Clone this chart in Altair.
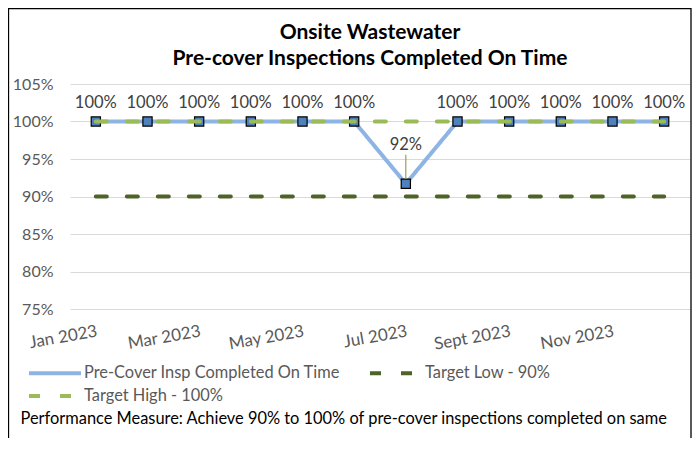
import altair as alt
import pandas as pd

months = ["Jan 2023", "Feb 2023", "Mar 2023", "Apr 2023", "May 2023", "Jun 2023",
          "Jul 2023", "Aug 2023", "Sept 2023", "Oct 2023", "Nov 2023", "Dec 2023"]
shown_months = ["Jan 2023", "Mar 2023", "May 2023", "Jul 2023", "Sept 2023", "Nov 2023"]
actual = [100, 100, 100, 100, 100, 100, 91.7, 100, 100, 100, 100, 100]
target_low = [90, 90, 90, 90, 90, 90, 90, 90, 90, 90, 90, 90]
target_high = [100, 100, 100, 100, 100, 100, 100, 100, 100, 100, 100, 100]
y_ticks = [75, 80, 85, 90, 95, 100, 105]

series_names = ["Pre-Cover Insp Completed On Time", "Target Low - 90%", "Target High - 100%"]
series_colors = ["#8EB4E3", "#4F6228", "#9BBB59"]
series_dash = [[1, 0], [11, 20], [11, 20]]
legend_order = ["Pre-Cover Insp Completed On Time", "Target High - 100%", "Target Low - 90%"]

rows = []
for name, vals in zip(series_names, [actual, target_low, target_high]):
    for m, v in zip(months, vals):
        rows.append({"month": m, "value": v, "series": name})
df = pd.DataFrame(rows)
df_actual = df[df.series == series_names[0]]
df_targets = df[df.series != series_names[0]]

FONT = "Lato"
W, H = 620, 225

x_enc = alt.X("month:N", sort=months, scale=alt.Scale(domain=months),
              axis=alt.Axis(values=shown_months, labelAngle=350, labelAlign="right",
                            labelBaseline="top", labelPadding=14, labelFontSize=17,
                            labelColor="#595959", domain=False, ticks=False, grid=False,
                            title="Performance Measure: Achieve 90% to 100% of pre-cover inspections completed on same",
                            titleX=-50, titleY=109, titleAlign="left", titleBaseline="middle",
                            titleFontSize=16.4, titleFontWeight="normal", titleColor="#000000"))
y_enc = alt.Y("value:Q", scale=alt.Scale(domain=[75, 105]),
              axis=alt.Axis(values=y_ticks, labelExpr="datum.value + '%'", labelFontSize=16,
                            labelColor="#595959", labelPadding=17, domain=False, ticks=False,
                            grid=True, gridColor="#D9D9D9", gridWidth=1, title=None))

legend = alt.Legend(orient="none", legendX=-43, legendY=277, columns=2, title=None,
                    values=legend_order,
                    symbolType="M-1,0H4.2", symbolSize=400, symbolStrokeWidth=4,
                    labelOffset=33, labelFontSize=16.4, labelColor="#595959",
                    columnPadding=21, rowPadding=2, labelLimit=400)
color_enc = alt.Color("series:N", scale=alt.Scale(domain=series_names, range=series_colors), legend=legend)
dash_enc = alt.StrokeDash("series:N", scale=alt.Scale(domain=series_names, range=series_dash), legend=legend)

frame = alt.Chart(pd.DataFrame({"a": [0]})).mark_rect(
    fillOpacity=0, stroke="#000000", strokeWidth=1.3
).encode(x=alt.value(-61.5), x2=alt.value(621), y=alt.value(-75.5), y2=alt.value(390))

line_actual = alt.Chart(df_actual).mark_line(strokeWidth=4).encode(
    x=x_enc, y=y_enc, color=color_enc, strokeDash=dash_enc)

points = alt.Chart(df_actual).mark_point(
    shape="square", filled=True, fill="#4F81BD", stroke="#000000", strokeWidth=1.2,
    size=85, opacity=1
).encode(x=x_enc, y=y_enc)

line_targets = alt.Chart(df_targets).mark_line(strokeWidth=4, strokeCap="round").encode(
    x=x_enc, y=y_enc, color=color_enc, strokeDash=dash_enc)

label_base = alt.Chart(df_actual).transform_calculate(
    label="format(datum.value, '.0f') + '%'")

labels_top = label_base.transform_filter("datum.value >= 100").mark_text(
    dy=-19, fontSize=16.5, color="#404040"
).encode(x=x_enc, y=y_enc, text="label:N")

labels_low = label_base.transform_filter("datum.value < 100").mark_text(
    dy=-39, fontSize=16.5, color="#404040"
).encode(x=x_enc, y=y_enc, text="label:N")

leader = alt.Chart(df_actual).transform_filter("datum.value < 100").mark_rule(
    color="#77933C", strokeWidth=1, yOffset=-5, y2Offset=-29
).encode(x=x_enc, y=y_enc, y2="value")

chart = alt.layer(
    frame, line_actual, points, line_targets, labels_top, labels_low, leader
).properties(
    width=W, height=H,
    title=alt.TitleParams(
        text=["Onsite Wastewater", "Pre-cover Inspections Completed On Time"],
        fontSize=21, fontWeight="bold", color="#000000", anchor="middle",
        dx=-10, dy=83, offset=22, lineHeight=26, font=FONT),
    padding={"left": 62, "top": 76, "right": 2, "bottom": 129},
    autosize="none",
).configure(font=FONT).configure_view(stroke=None)

chart.save("out.html", embed_options={"renderer": "svg", "actions": False})
